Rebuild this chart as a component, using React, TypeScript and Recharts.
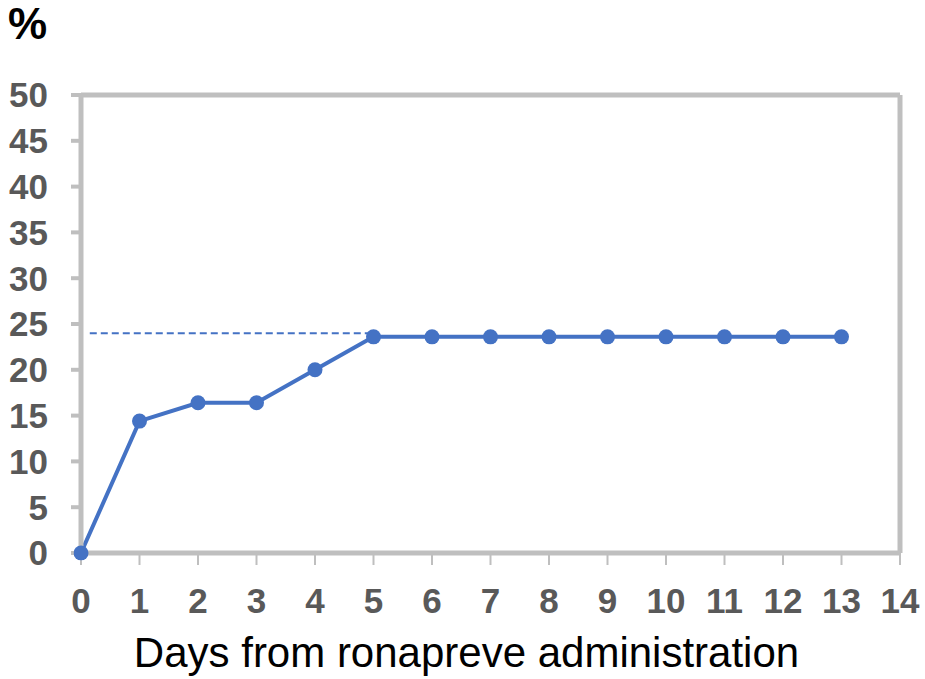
import { LineChart, Line, XAxis, YAxis, ReferenceLine, Label } from "recharts";

const days = [0, 1, 2, 3, 4, 5, 6, 7, 8, 9, 10, 11, 12, 13];
const percent = [0, 14.4, 16.4, 16.4, 20, 23.6, 23.6, 23.6, 23.6, 23.6, 23.6, 23.6, 23.6, 23.6];
const plateauX = [0.15, 5];
const plateauY = [24, 24];
const xTicks = [0, 1, 2, 3, 4, 5, 6, 7, 8, 9, 10, 11, 12, 13, 14];
const yTicks = [0, 5, 10, 15, 20, 25, 30, 35, 40, 45, 50];

const BLUE = "#4472C4";
const GRID = "#bfbfbf";
const TICK = "#595959";
const FONT = "'Liberation Sans', Arial, sans-serif";

const data = days.map((d, i) => ({ day: d, pct: percent[i] }));
const plateau = plateauX.map((d, i) => ({ day: d, pct: plateauY[i] }));

export default function App() {
  return (
    <div style={{ position: "absolute", left: 0, top: 0, width: 925, height: 679, background: "#fff", fontFamily: FONT }}>
      <div style={{ position: "absolute", left: 8, top: 2, fontSize: 44, fontWeight: "bold", color: "#000", lineHeight: 1 }}>%</div>
      <LineChart width={925} height={679} margin={{ top: 95, right: 25, left: 0, bottom: 0 }}>
        <XAxis
          dataKey="day"
          type="number"
          domain={[0, 14]}
          ticks={xTicks}
          interval={0}
          allowDataOverflow
          height={126}
          axisLine={{ stroke: GRID, strokeWidth: 5 }}
          tickLine={{ stroke: GRID, strokeWidth: 2 }}
          tickSize={12}
          tickMargin={23}
          tick={{ fill: TICK, fontSize: 35, fontWeight: "bold", fontFamily: FONT }}
        >
          <Label
            value="Days from ronapreve administration"
            position="insideBottom"
            offset={12}
            dx={-24}
            style={{ fill: "#000", fontSize: 42, fontFamily: FONT }}
          />
        </XAxis>
        <YAxis
          type="number"
          domain={[0, 50]}
          ticks={yTicks}
          interval={0}
          width={81}
          axisLine={{ stroke: GRID, strokeWidth: 5 }}
          tickLine={{ stroke: GRID, strokeWidth: 4 }}
          tickSize={10}
          tickMargin={23}
          tick={{ fill: TICK, fontSize: 35, fontWeight: "bold", fontFamily: FONT }}
        />
        <ReferenceLine y={50} stroke={GRID} strokeWidth={5} />
        <ReferenceLine x={14} stroke={GRID} strokeWidth={5} />
        <Line
          data={plateau}
          dataKey="pct"
          stroke={BLUE}
          strokeWidth={2}
          strokeDasharray="7 4"
          dot={false}
          activeDot={false}
          isAnimationActive={false}
        />
        <Line
          data={data}
          dataKey="pct"
          stroke={BLUE}
          strokeWidth={4}
          dot={{ r: 7.5, fill: BLUE, stroke: BLUE, strokeWidth: 0, clipDot: false }}
          activeDot={false}
          isAnimationActive={false}
        />
      </LineChart>
    </div>
  );
}
